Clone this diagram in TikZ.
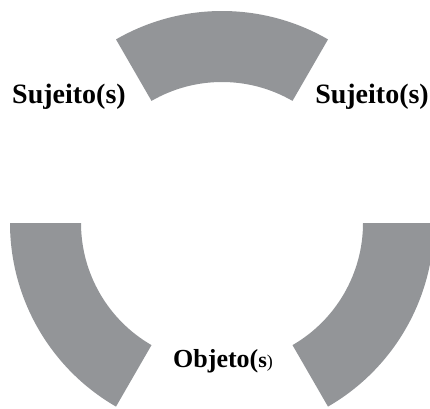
\documentclass[tikz,border=0pt]{standalone}
\usepackage{fontspec}
\setmainfont{Liberation Serif}
\usepackage{tikz}
\usetikzlibrary{positioning, calc}
\definecolor{ringgray}{RGB}{147, 149, 152}
\tikzset{
  ringpiece/.style={fill=ringgray, draw=none},
  bigword/.style={font=\fontsize{28}{32}\selectfont\bfseries, inner sep=0pt, anchor=base west}
}

\begin{document}
\begin{tikzpicture}[x=1pt, y=1pt]
  \useasboundingbox (0,0) rectangle (430,408);
  \coordinate (ctr) at (222,185);
  % three ring pieces
  \foreach \a in {60,180,300} {
    \fill[ringpiece] ($(ctr)+(\a:212)$) arc[start angle=\a, end angle=\a+60, radius=212]
      -- ($(ctr)+(\a+60:141)$) arc[start angle=\a+60, end angle=\a, radius=141] -- cycle;
  }
  \node[bigword] (subjleft) at (12,305) {Sujeito(s)};
  \node[bigword, anchor=base east] (subjright) at (429,305) {Sujeito(s)};
  \node[bigword, font=\fontsize{26}{30}\selectfont\bfseries] (objbottom) at (173,41)
    {Objeto({\fontsize{22}{26}\selectfont s}{\fontsize{18}{22}\selectfont\mdseries)}};
\end{tikzpicture}
\end{document}
